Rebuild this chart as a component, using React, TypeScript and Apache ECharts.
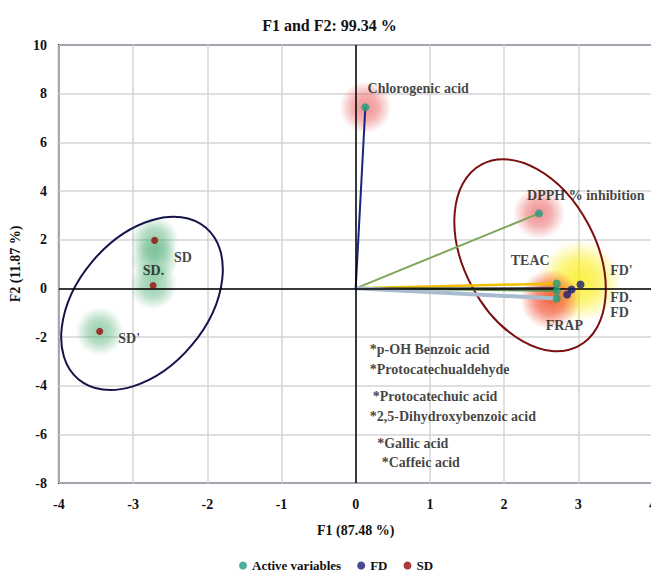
import React, { useEffect, useRef } from "react";
import * as echarts from "echarts";

// ---- data ----
const activeVariables: [number, number][] = [
  [0.13, 7.44], // Chlorogenic acid
  [2.47, 3.08], // DPPH % inhibition
  [2.71, 0.2],
  [2.71, -0.1],
  [2.71, -0.42],
];
const fdPoints: [number, number][] = [
  [2.85, -0.25],
  [2.91, -0.05],
  [3.03, 0.16],
];
const sdPoints: [number, number][] = [
  [-2.71, 1.97],
  [-2.73, 0.12],
  [-3.45, -1.77],
];
// vectors from origin to variables
const vectorEnds: [number, number][] = [
  [0.13, 7.44],
  [2.47, 3.08],
  [2.71, 0.2],
  [2.71, 0.02],
  [2.71, -0.1],
  [2.71, -0.42],
];
const pointLabels: { text: string; pos: [number, number] }[] = [
  { text: "Chlorogenic acid", pos: [0.16, 8.22] },
  { text: "DPPH % inhibition", pos: [2.31, 3.82] },
  { text: "TEAC", pos: [2.09, 1.15] },
  { text: "FRAP", pos: [2.56, -1.52] },
  { text: "FD'", pos: [3.43, 0.74] },
  { text: "FD.", pos: [3.43, -0.37] },
  { text: "FD", pos: [3.43, -0.99] },
  { text: "SD", pos: [-2.45, 1.27] },
  { text: "SD.", pos: [-2.87, 0.74] },
  { text: "SD'", pos: [-3.2, -2.05] },
];
const noteLabels: { text: string; pos: [number, number] }[] = [
  { text: "*p-OH Benzoic acid", pos: [0.19, -2.51] },
  { text: "*Protocatechualdehyde", pos: [0.19, -3.33] },
  { text: "*Protocatechuic acid", pos: [0.23, -4.44] },
  { text: "*2,5-Dihydroxybenzoic acid", pos: [0.19, -5.26] },
  { text: "*Gallic acid", pos: [0.29, -6.37] },
  { text: "*Caffeic acid", pos: [0.35, -7.15] },
];
// ellipse centres (data units)
const ellipseCentres: [number, number][] = [
  [-2.88, -0.62],
  [2.35, 1.36],
];
const greenGlow: [number, number][] = [
  [-2.71, 1.97],
  [-2.71, 1.2],
  [-2.73, 0.12],
  [-3.45, -1.77],
];
const redGlow: [number, number][] = [
  [0.13, 7.44],
  [2.47, 3.08],
];
const yellowGlow: [number, number][] = [[3.02, 0.3]];
const orangeGlow: [number, number][] = [[2.62, -0.45]];

const FONT = "'Liberation Serif', 'Times New Roman', serif";

function radial(color: string, a0: number) {
  return {
    type: "radial",
    x: 0.5,
    y: 0.5,
    r: 0.5,
    colorStops: [
      { offset: 0, color: `rgba(${color},${a0})` },
      { offset: 0.5, color: `rgba(${color},${a0 * 0.7})` },
      { offset: 1, color: `rgba(${color},0)` },
    ],
  };
}

export default function App() {
  const ref = useRef<HTMLDivElement>(null);
  useEffect(() => {
    if (!ref.current) return;
    const chart = echarts.init(ref.current, null, { renderer: "svg" });
    const ellipseStyles = [
      { rx: 99, ry: 65, rot: 50, color: "#14144a" },
      { rx: 103, ry: 66, rot: -62, color: "#7a1010" },
    ];
    const vectorColors = ["#1a237e", "#7fa55a", "#f0c000", "#444444", "#5d8a50", "#a8bccf"];
    const vectorWidths = [2, 2, 2.5, 1.5, 2, 4];
    const txt = { fontFamily: FONT, fontWeight: "bold", color: "#111" };

    const option: any = {
      animation: false,
      title: {
        text: "F1 and F2: 99.34 %",
        left: "center",
        top: 12,
        textStyle: { ...txt, fontSize: 16 },
      },
      legend: {
        bottom: 1,
        left: 234,
        icon: "circle",
        itemWidth: 8,
        itemHeight: 8,
        itemGap: 16,
        data: ["Active variables", "FD", "SD"],
        textStyle: { ...txt, fontSize: 13 },
      },
      grid: {
        left: 56,
        right: 5,
        top: 45,
        bottom: 95,
        show: true,
        borderColor: "#15154a",
        borderWidth: 2,
        backgroundColor: "transparent",
      },
      xAxis: {
        type: "value",
        min: -4,
        max: 4,
        interval: 1,
        name: "F1 (87.48 %)",
        nameLocation: "middle",
        nameGap: 40,
        nameTextStyle: { ...txt, fontSize: 14 },
        axisLine: { show: false },
        axisTick: { show: false },
        axisLabel: { ...txt, fontSize: 14, margin: 14 },
        splitLine: { lineStyle: { color: "#d4d4d4", width: 1.5 } },
      },
      yAxis: {
        type: "value",
        min: -8,
        max: 10,
        interval: 2,
        name: "F2 (11.87 %)",
        nameLocation: "middle",
        nameGap: 31,
        nameTextStyle: { ...txt, fontSize: 14 },
        axisLine: { show: false },
        axisTick: { show: false },
        axisLabel: { ...txt, fontSize: 14, margin: 12 },
        splitLine: { lineStyle: { color: "#d4d4d4", width: 1.5 } },
      },
      series: [
        {
          type: "scatter",
          name: "glowYellow",
          data: yellowGlow,
          symbolSize: 82,
          itemStyle: { color: radial("250,235,0", 0.95) },
          silent: true,
          z: 1,
        },
        {
          type: "scatter",
          name: "glowOrange",
          data: orangeGlow,
          symbolSize: 60,
          itemStyle: { color: radial("240,40,0", 0.9) },
          silent: true,
          z: 1,
        },
        {
          type: "scatter",
          name: "glowRed",
          data: redGlow,
          symbolSize: 52,
          itemStyle: { color: radial("230,70,70", 0.75) },
          silent: true,
          z: 1,
        },
        {
          type: "scatter",
          name: "glowGreen",
          data: greenGlow,
          symbolSize: 48,
          itemStyle: { color: radial("70,170,110", 0.7) },
          silent: true,
          z: 1,
        },
        {
          type: "custom",
          name: "ellipses",
          data: ellipseCentres,
          silent: true,
          z: 2,
          renderItem: (params: any, api: any) => {
            const c = api.coord([api.value(0), api.value(1)]);
            const s = ellipseStyles[params.dataIndex];
            return {
              type: "ellipse",
              x: c[0],
              y: c[1],
              rotation: (s.rot * Math.PI) / 180,
              shape: { cx: 0, cy: 0, rx: s.rx, ry: s.ry },
              style: { fill: "none", stroke: s.color, lineWidth: 2 },
            };
          },
        },
        ...vectorEnds.map((end, i) => ({
          type: "line",
          name: "vector" + i,
          data: [[0, 0], end],
          symbol: "none",
          silent: true,
          z: 3,
          lineStyle: { color: vectorColors[i], width: vectorWidths[i] },
        })),
        {
          type: "line",
          name: "zero",
          data: [],
          silent: true,
          z: 4,
          markLine: {
            silent: true,
            symbol: "none",
            label: { show: false },
            lineStyle: { color: "#000", width: 1.5, type: "solid" },
            data: [{ xAxis: 0 }, { yAxis: 0 }],
          },
        },
        {
          type: "scatter",
          name: "Active variables",
          data: activeVariables,
          symbolSize: 8,
          itemStyle: { color: "#1f9e7e" },
          z: 5,
        },
        {
          type: "scatter",
          name: "FD",
          data: fdPoints,
          symbolSize: 8,
          itemStyle: { color: "#1a1a78" },
          z: 5,
        },
        {
          type: "scatter",
          name: "SD",
          data: sdPoints,
          symbolSize: 7,
          itemStyle: { color: "#9a0a0a" },
          z: 5,
        },
        {
          type: "scatter",
          name: "labels",
          data: [...pointLabels, ...noteLabels].map((l) => ({ value: l.pos, name: l.text })),
          symbolSize: 0,
          silent: true,
          z: 6,
          label: {
            show: true,
            position: "right",
            distance: 0,
            formatter: (p: any) => p.name,
            ...txt,
            fontSize: 14,
          },
        },
      ],
    };
    chart.setOption(option);
    return () => chart.dispose();
  }, []);
  return <div ref={ref} style={{ width: 659, height: 578, margin: -8 }} />;
}
